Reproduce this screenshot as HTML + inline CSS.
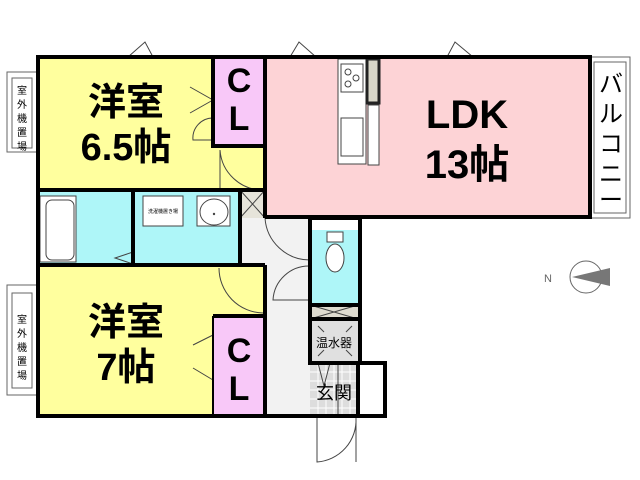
<!DOCTYPE html>
<html><head><meta charset="utf-8"><style>
html,body{margin:0;padding:0;background:#fff;width:640px;height:480px;overflow:hidden}
svg text{font-family:"Liberation Sans","Noto Sans CJK JP",sans-serif}
</style></head><body>
<svg width="640" height="480" viewBox="0 0 640 480" xmlns="http://www.w3.org/2000/svg">
<rect x="7" y="72" width="31" height="80" fill="#fff" stroke="#666"/>
<rect x="12" y="78" width="20" height="70" fill="#fff" stroke="#666"/>
<text x="22" y="94" font-size="10" text-anchor="middle">室</text>
<text x="22" y="108" font-size="10" text-anchor="middle">外</text>
<text x="22" y="122" font-size="10" text-anchor="middle">機</text>
<text x="22" y="136" font-size="10" text-anchor="middle">置</text>
<text x="22" y="150" font-size="10" text-anchor="middle">場</text>
<rect x="7" y="285" width="31" height="110" fill="#fff" stroke="#666"/>
<rect x="12" y="293" width="20" height="95" fill="#fff" stroke="#666"/>
<text x="22" y="323" font-size="10" text-anchor="middle">室</text>
<text x="22" y="337" font-size="10" text-anchor="middle">外</text>
<text x="22" y="351" font-size="10" text-anchor="middle">機</text>
<text x="22" y="365" font-size="10" text-anchor="middle">置</text>
<text x="22" y="379" font-size="10" text-anchor="middle">場</text>
<rect x="590" y="57" width="40" height="161" fill="#fff" stroke="#666"/>
<rect x="594" y="62" width="32" height="151" fill="#fff" stroke="#666"/>
<text font-size="24" text-anchor="middle"><tspan x="611" y="92">バ</tspan><tspan x="611" y="122">ル</tspan><tspan x="611" y="152">コ</tspan><tspan x="611" y="182">ニ</tspan><tspan x="611" y="208">ー</tspan></text>
<rect x="38" y="57" width="227" height="133" fill="#ffff9e"/>
<rect x="213" y="57" width="52" height="89" fill="#f8c8f8"/>
<rect x="265" y="57" width="325" height="160" fill="#fdd3d6"/>
<rect x="38" y="190" width="202" height="75" fill="#aef6f8"/>
<rect x="240" y="190" width="25" height="28" fill="#e6e4da"/>
<path d="M240 190 L265 218 M265 190 L240 218" stroke="#444"/>
<rect x="240" y="218" width="70" height="198" fill="#f2f2f2"/>
<rect x="310" y="218" width="50" height="12" fill="#fff"/>
<rect x="310" y="230" width="50" height="73" fill="#aef6f8"/>
<rect x="310" y="305" width="50" height="14" fill="#dedbcf"/>
<path d="M310 305 L358 319 M358 305 L310 319" stroke="#444"/>
<rect x="310" y="319" width="50" height="44" fill="#e0e0e0"/>
<rect x="310" y="363" width="48" height="53" fill="#ddd"/>
<path d="M318 363 V416 M326 363 V416 M334 363 V416 M342 363 V416 M350 363 V416 M310 372 H358 M310 381 H358 M310 390 H358 M310 399 H358 M310 408 H358" stroke="#fff" stroke-width="1"/>
<rect x="38" y="265" width="227" height="151" fill="#ffff9e"/>
<rect x="213" y="316" width="52" height="100" fill="#f8c8f8"/>
<rect x="40" y="196" width="36" height="66" fill="#fff" stroke="#444"/>
<rect x="46" y="200" width="28" height="60" rx="6" fill="#fff" stroke="#444"/>
<rect x="143" y="196" width="40" height="30" fill="#fff" stroke="#444"/>
<text x="163" y="213" font-size="5" text-anchor="middle">洗濯機置き場</text>
<path d="M197 196 H230 V226 H197 Z" fill="#fff" stroke="#444"/>
<ellipse cx="214" cy="212" rx="14" ry="13" fill="#fff" stroke="#444"/>
<circle cx="214" cy="214" r="1.2" fill="#444"/>
<ellipse cx="335" cy="258" rx="9" ry="14" fill="#fff" stroke="#444"/>
<rect x="327" y="232" width="16" height="10" fill="#fff" stroke="#444"/>
<rect x="338" y="59" width="28" height="105" fill="#fff" stroke="#444"/>
<rect x="341" y="64" width="22" height="28" fill="#fff" stroke="#444"/>
<circle cx="348" cy="72" r="3" fill="none" stroke="#444"/><circle cx="356" cy="78" r="3" fill="none" stroke="#444"/><circle cx="348" cy="84" r="3" fill="none" stroke="#444"/>
<rect x="341" y="118" width="22" height="38" fill="#fff" stroke="#444"/>
<rect x="367" y="59" width="12" height="44" fill="#d8d6c8" stroke="#222" stroke-width="3"/>
<rect x="368" y="105" width="11" height="60" fill="#fff" stroke="#444"/>
<g fill="none" stroke="#444" stroke-width="1">
<path d="M220 150 V190 M220 150 A43 43 0 0 0 263 190"/>
<path d="M213 100 L190 87 M213 100 L190 113"/>
<path d="M213 118 A20 20 0 0 0 193 140 H213"/>
<path d="M265 218 A45 45 0 0 0 310 260"/>
<path d="M310 266 A36 36 0 0 0 273 300 H310"/>
<path d="M219 268 A45 45 0 0 0 263 313"/>
<path d="M213 335 L193 345 M213 380 L193 368"/>
<path d="M133 252 L115 258 L133 264"/>
<path d="M317 416 V462 A42 42 0 0 0 356 418 M356 416 V462"/>
<path d="M318 363 L324 386 L330 363 M338 363 V416"/>
<path d="M128 57 L145 42 L153 57 Z M290 57 L299 42 L316 57 Z M447 57 L455 42 L473 57 Z" fill="#fff"/>
<path d="M318 326 L324 332 M352 326 L346 332 M318 356 L324 350 M352 356 L346 350"/>
</g>
<g fill="none" stroke="#000" stroke-width="4">
<path d="M38 57 H590 V217 H360 V363 H385 V416 H38 Z"/>
<path d="M38 190 H265 M265 57 V218 M213 57 V146 H265 M38 265 H265 M265 265 V416 M213 316 H265 M310 218 V363 H360 M310 305 H360 M310 319 H360 M133 190 V265 M240 190 V265 M358 363 V416 M265 217 H360 M310 218 H360"/>
</g>
<path d="M213 316 V416" stroke="#000" stroke-width="2"/>
<g font-weight="bold" text-anchor="middle">
<text x="126" y="115" font-size="38">洋室</text>
<text x="126" y="160" font-size="38">6.5帖</text>
<text x="239" y="92" font-size="34">C</text>
<text x="239" y="130" font-size="34">L</text>
<text x="467" y="128" font-size="40">LDK</text>
<text x="467" y="178" font-size="40">13帖</text>
<text x="126" y="335" font-size="38">洋室</text>
<text x="126" y="380" font-size="38">7帖</text>
<text x="239" y="362" font-size="34">C</text>
<text x="239" y="400" font-size="34">L</text>
</g>
<text x="334" y="347" font-size="12" text-anchor="middle">温水器</text>
<text x="334" y="399" font-size="18" text-anchor="middle">玄関</text>
<circle cx="586" cy="277" r="16" fill="#fff" stroke="#666"/>
<path d="M572 277 L610 268 V286 Z" fill="#777"/>
<text x="548" y="282" font-size="11" fill="#666" text-anchor="middle">N</text>
</svg>
</body></html>
